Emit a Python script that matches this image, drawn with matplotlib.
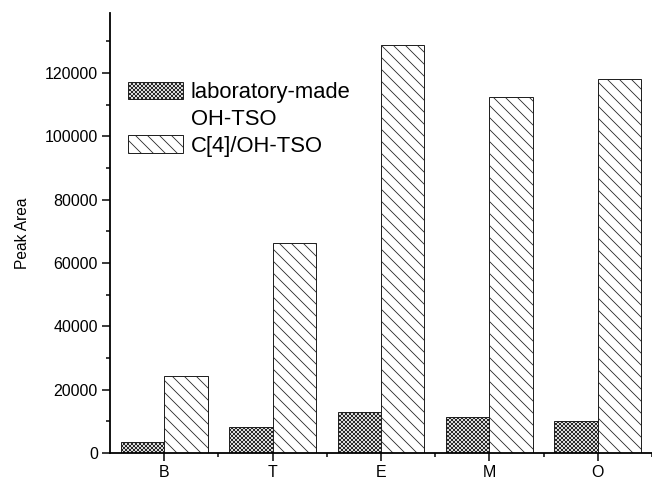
import numpy as np
import matplotlib.pyplot as plt
from matplotlib.patches import Patch
from matplotlib.ticker import MultipleLocator, FixedLocator

# peak areas per sample, read per group
samples = ['B', 'T', 'E', 'M', 'O']
lab_made = [3400, 8100, 13100, 11500, 10100]
c4_oh_tso = [24200, 66300, 128900, 112600, 118100]
series_labels = ['laboratory-made', 'OH-TSO', 'C[4]/OH-TSO']

plt.rcParams['font.family'] = ['Liberation Sans', 'DejaVu Sans']
plt.rcParams['hatch.linewidth'] = 0.8

DPI = 72
fig = plt.figure(figsize=(652 / DPI, 481 / DPI), dpi=DPI)
ax = fig.add_axes([110 / 652, 28 / 481, 542 / 652, 440 / 481])

x = np.arange(1, len(samples) + 1)
width = 0.4
b1 = ax.bar(x - width / 2, lab_made, width, facecolor='white', edgecolor='#222222',
            hatch='xxxxxx', linewidth=1.0)
b2 = ax.bar(x + width / 2, c4_oh_tso, width, facecolor='white', edgecolor='#222222',
            hatch='\\\\', linewidth=1.0)

ax.set_xlim(0.5, 5.5)
ax.set_ylim(0, 139000)

ax.set_xticks(x)
ax.set_xticklabels(samples)
ax.xaxis.set_minor_locator(FixedLocator(x + 0.5))
ax.yaxis.set_major_locator(MultipleLocator(20000))
ax.yaxis.set_minor_locator(MultipleLocator(10000))

for side in ('top', 'right'):
    ax.spines[side].set_visible(False)
for side in ('left', 'bottom'):
    ax.spines[side].set_linewidth(1.8)

ax.tick_params(which='major', direction='out', length=8, width=1.5,
               labelsize=16, pad=4)
ax.tick_params(which='minor', direction='out', length=4, width=1.5)

ax.set_ylabel('Peak Area', fontsize=15.5, labelpad=15)

# first label wraps onto a second line with no handle of its own
blank = Patch(facecolor='none', edgecolor='none')
ax.legend([b1, blank, b2], series_labels, loc='upper left',
          bbox_to_anchor=(0.033, 0.843), frameon=False,
          fontsize=22, handlelength=2.5, handleheight=0.82,
          handletextpad=0.35, labelspacing=0.25, borderpad=0, borderaxespad=0)

fig.savefig('out.png', dpi=DPI)
